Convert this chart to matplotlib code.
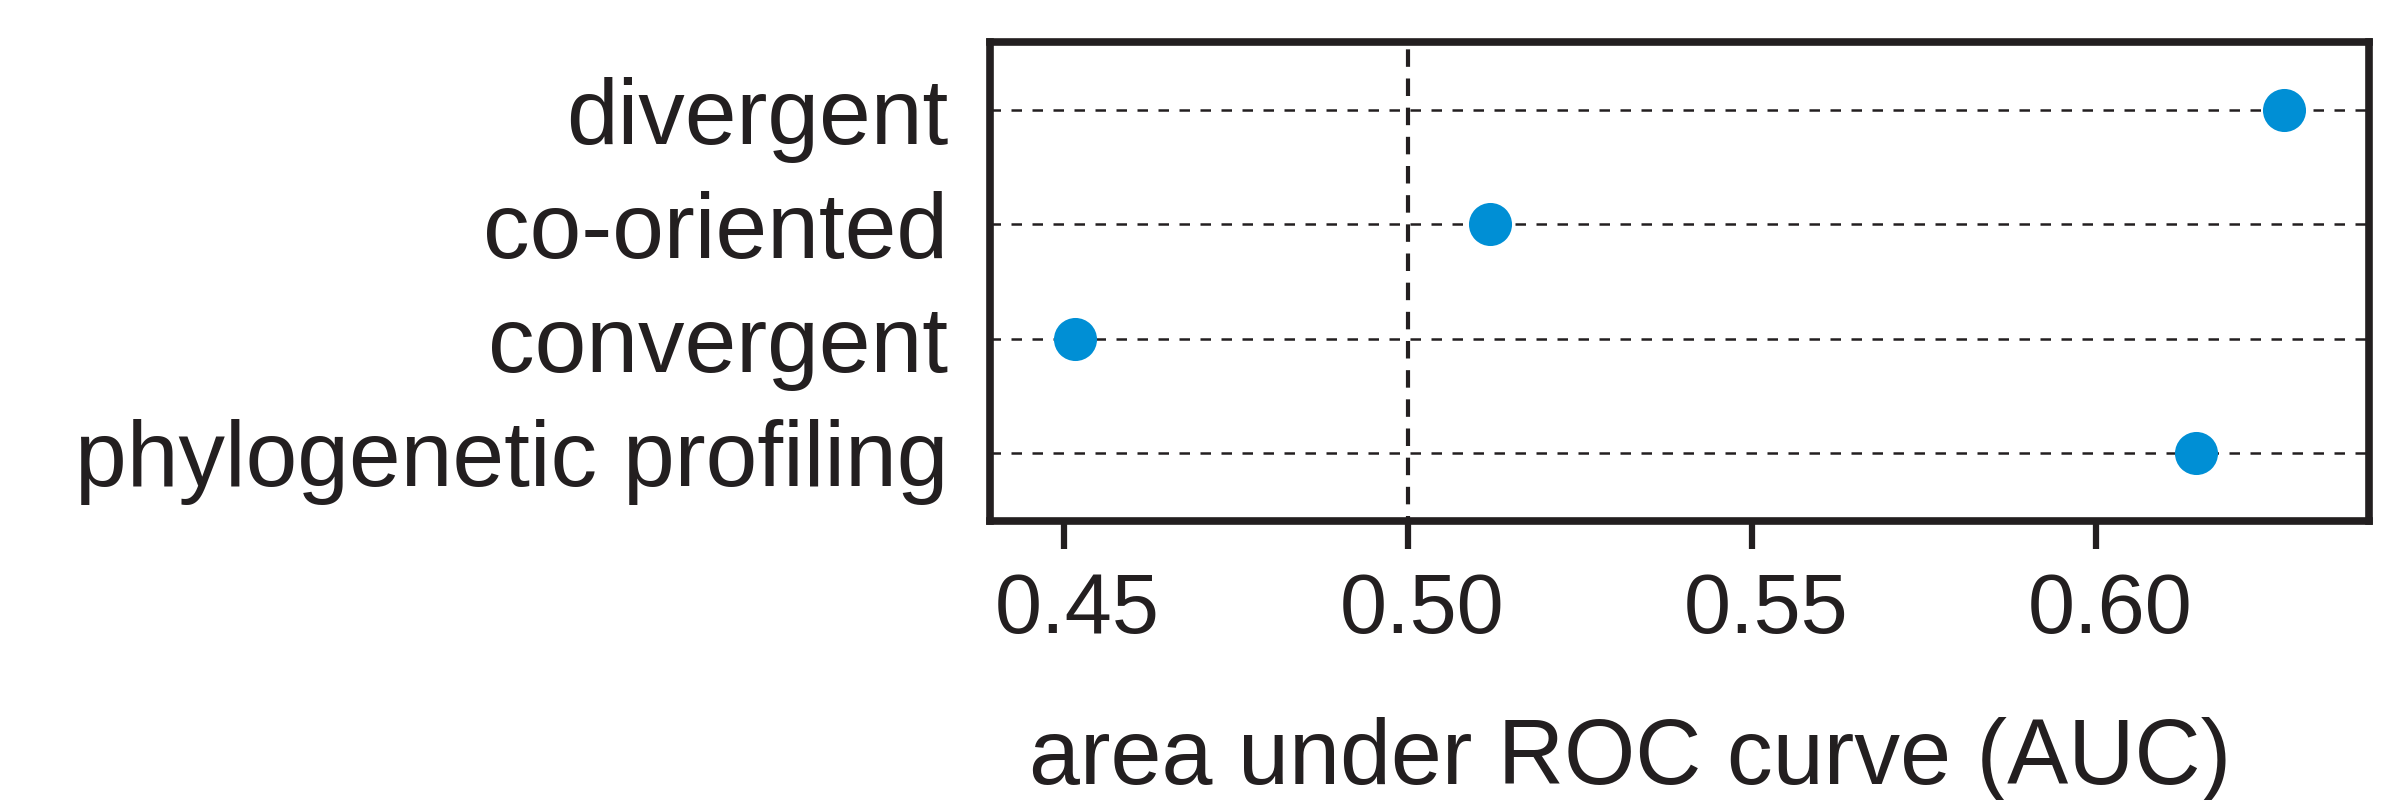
import numpy as np
import matplotlib
matplotlib.use('Agg')
import matplotlib.pyplot as plt
import matplotlib.transforms as mtransforms

# Data
categories = ['phylogenetic profiling', 'convergent', 'co-oriented', 'divergent']
auc_values = [0.6145, 0.4517, 0.5119, 0.6272]
xticks = [0.45, 0.50, 0.55, 0.60]
xtick_labels = ['0.45', '0.50', '0.55', '0.60']
chance_level = 0.50

ink = '#231F20'
dot_color = '#008FD5'

plt.rcParams.update({
    'font.family': ['Liberation Sans', 'DejaVu Sans'],
    'text.color': ink,
    'axes.labelcolor': ink,
    'axes.edgecolor': ink,
    'xtick.color': ink,
    'ytick.color': ink,
})

fig = plt.figure(figsize=(23.94, 8), dpi=100)
ax = fig.add_axes([990 / 2394, 1 - 521 / 800, 1379 / 2394, 479 / 800])

y = np.arange(len(categories))

# horizontal guide lines at each category
for yi in y:
    ax.axhline(yi, color=ink, lw=1.8, linestyle=(0, (4.2, 4.2)), zorder=1)

# chance line
ax.axvline(chance_level, color=ink, lw=3.0, linestyle=(3, (4.2, 2.8)), zorder=1)

ax.plot(auc_values, y, 'o', color=dot_color, markersize=31, markeredgewidth=0, zorder=3)

ax.set_xlim(0.4393, 0.6396)
ax.set_ylim(-0.6, 3.6)

ax.set_yticks(y)
ax.set_yticklabels(categories, fontsize=67)
ax.tick_params(axis='y', length=0, pad=30)

ax.set_xticks(xticks)
ax.set_xticklabels(xtick_labels, fontsize=61)
ax.tick_params(axis='x', length=20, width=4.5, pad=16)

offset = mtransforms.ScaledTranslation(10 / 72, 0, fig.dpi_scale_trans)
for lab in ax.get_xticklabels():
    lab.set_transform(lab.get_transform() + offset)

ax.set_xlabel('area under ROC curve (AUC)', fontsize=66)
ax.xaxis.set_label_coords(0.464, -0.41)

for sp in ax.spines.values():
    sp.set_linewidth(5.5)
    sp.set_color(ink)

fig.savefig('out.png', dpi=100, facecolor='white')
